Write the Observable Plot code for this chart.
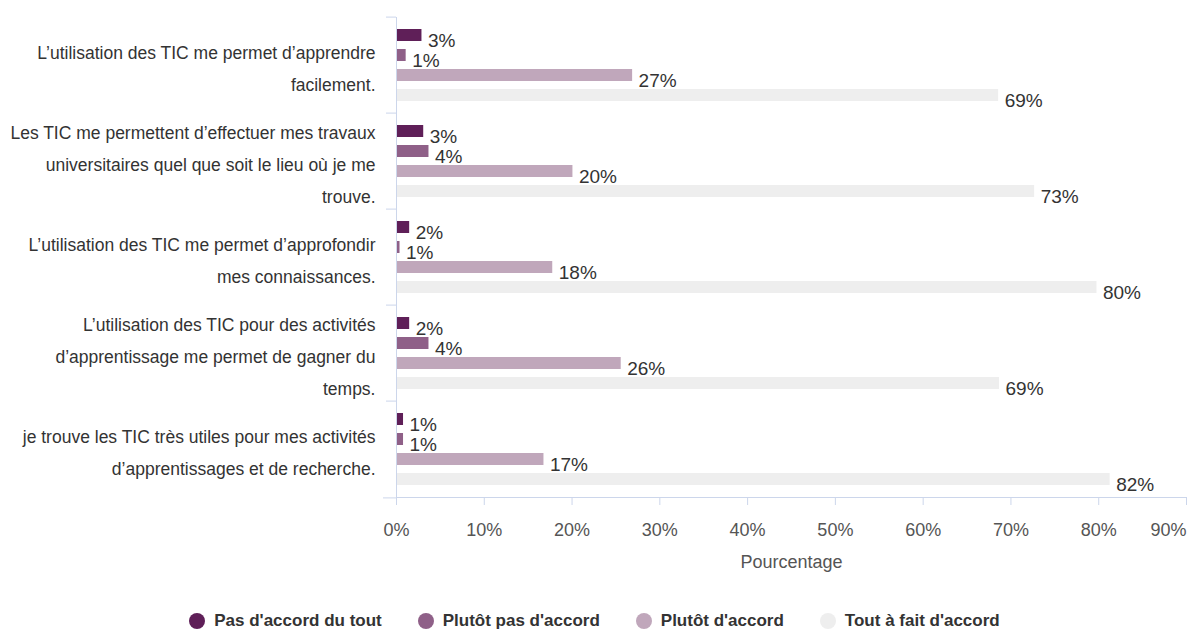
<!DOCTYPE html>
<html><head><meta charset="utf-8">
<script src="https://cdn.jsdelivr.net/npm/d3@7"></script>
<script src="https://cdn.jsdelivr.net/npm/@observablehq/plot@0.6"></script>
<style>
body{margin:0;background:#fff;font-family:"Liberation Sans",Arial,sans-serif;}
#legend{display:flex;justify-content:center;align-items:center;gap:36px;font-weight:bold;font-size:17px;color:#333;margin-top:19px;}
#legend .it{display:flex;align-items:center;gap:9px;}
#legend .dot{width:16px;height:16px;border-radius:50%;display:inline-block;}
</style></head><body><div id="chart"></div><div id="legend"></div>
<script>
const questions = [
  "L’utilisation des TIC me permet d’apprendre\nfacilement.",
  "Les TIC me permettent d’effectuer mes travaux\nuniversitaires quel que soit le lieu où je me\ntrouve.",
  "L’utilisation des TIC me permet d’approfondir\nmes connaissances.",
  "L’utilisation des TIC pour des activités\nd’apprentissage me permet de gagner du\ntemps.",
  "je trouve les TIC très utiles pour mes activités\nd’apprentissages et de recherche."
];
const series = ["Pas d'accord du tout", "Plutôt pas d'accord", "Plutôt d'accord", "Tout à fait d'accord"];
const colors = ["#5f1f58", "#8f6088", "#c0a7bb", "#eeeeee"];
// bar values (%)
const pasDuTout = [2.9, 3.1, 1.5, 1.5, 0.8];
const plutotPas = [1.1, 3.7, 0.4, 3.7, 0.8];
const plutot    = [26.9, 20.1, 17.8, 25.6, 16.8];
const toutAFait = [68.6, 72.7, 79.8, 68.7, 81.3];
// printed labels
const pasDuToutLbl = [3, 3, 2, 2, 1];
const plutotPasLbl = [1, 4, 1, 4, 1];
const plutotLbl    = [27, 20, 18, 26, 17];
const toutAFaitLbl = [69, 73, 80, 69, 82];
const xTicks = [0, 10, 20, 30, 40, 50, 60, 70, 80, 90];

const values = [pasDuTout, plutotPas, plutot, toutAFait];
const labels = [pasDuToutLbl, plutotPasLbl, plutotLbl, toutAFaitLbl];
const rows = questions.flatMap((q, i) => series.map((s, j) => ({q, s, v: values[j][i], lbl: labels[j][i]})));

const W = 1189, H = 592, MT = 15, MB = 93, ML = 396, MR = 3;
const band = (H - MT - MB) / questions.length;
const axisColor = "#ccd6eb";
const font = '"Liberation Sans",Arial,sans-serif';

const chart = Plot.plot({
  width: W, height: H, marginTop: MT, marginBottom: MB, marginLeft: ML, marginRight: MR,
  style: {fontFamily: font, fontSize: "16px", color: "#333", background: "#fff", overflow: "visible"},
  x: {domain: [0, 90], axis: null},
  y: {domain: series, axis: null, paddingInner: 0.38, paddingOuter: 0.5},
  fy: {domain: questions, padding: 0, axis: null},
  color: {domain: series, range: colors},
  marks: [
    Plot.barX(rows, {x: "v", y: "s", fy: "q", fill: "s"}),
    Plot.text(rows, {x: "v", y: "s", fy: "q", text: d => d.lbl + "%", textAnchor: "start", dx: 6, dy: 5, fontSize: 19, fill: "#333"}),
    Plot.ruleX([0], {stroke: axisColor}),
    Plot.frame({anchor: "bottom", facetAnchor: "bottom", stroke: axisColor}),
    Plot.axisFy({anchor: "left", tickSize: 0, tickPadding: 21, fontSize: 17.5, lineHeight: 1.85, dy: -1, label: null, fill: "#333"}),
    Plot.axisFy({anchor: "left", text: null, tickSize: 10, dy: -band / 2, stroke: axisColor, label: null}),
    Plot.axisFy({anchor: "left", ticks: [questions[questions.length - 1]], text: null, tickSize: 13, dy: band / 2, stroke: axisColor, label: null}),
    Plot.axisX({ticks: xTicks.slice(0, -1), tickFormat: d => d + "%", tickSize: 8, tickPadding: 18, fontSize: 18, stroke: axisColor, fill: "#555",
      label: "Pourcentage", labelAnchor: "center", labelOffset: 70, labelArrow: "none"}),
    Plot.axisX({ticks: xTicks.slice(-1), tickFormat: d => d + "%", tickSize: 8, tickPadding: 18, fontSize: 18, stroke: axisColor, fill: "#555", textAnchor: "end", label: null})
  ]
});
document.getElementById("chart").appendChild(chart);

const legend = document.getElementById("legend");
series.forEach((s, j) => {
  const it = document.createElement("div");
  it.className = "it";
  it.innerHTML = `<span class="dot" style="background:${colors[j]}"></span><span>${s}</span>`;
  legend.appendChild(it);
});
</script>
</body></html>
